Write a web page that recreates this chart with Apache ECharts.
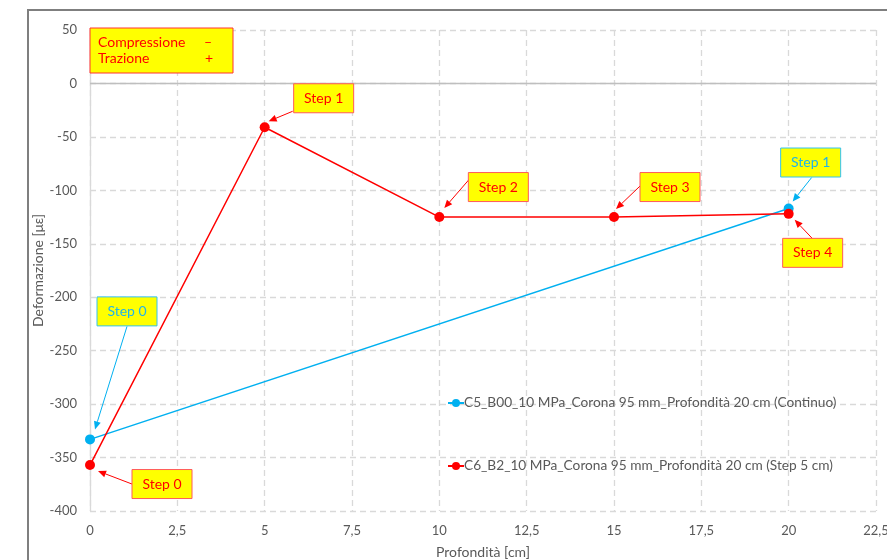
<!DOCTYPE html>
<html>
<head>
<meta charset="utf-8">
<script src="https://cdn.jsdelivr.net/npm/echarts@6/dist/echarts.min.js"></script>
<style>
  html, body { margin: 0; padding: 0; background: #ffffff; }
  #chart { width: 887px; height: 560px; }
</style>
</head>
<body>
<div id="chart"></div>
<script>
// Depth (cm) and measured strain (με) for the two cores
const depthContinuo = [0, 20];
const strainContinuo = [-333, -117];
const depthStep = [0, 5, 10, 15, 20];
const strainStep = [-357, -41, -125, -125, -122];

const nameContinuo = 'C5_B00_10 MPa_Corona 95 mm_Profondità 20 cm (Continuo)';
const nameStep = 'C6_B2_10 MPa_Corona 95 mm_Profondità 20 cm (Step 5 cm)';
const yTitle = 'Deformazione [με]';

// Step callouts: series, point index, text, box centre offset, arrow start offset, arrow tip offset (px)
const callouts = [
  { s: 0, i: 0, text: 'Step 0', box: [37, -128], from: [37, -113], to: [5, -10] },
  { s: 0, i: 1, text: 'Step 1', box: [22, -46], from: [23, -31], to: [4, -7] },
  { s: 1, i: 0, text: 'Step 0', box: [72, 19], from: [42, 19], to: [8, 6] },
  { s: 1, i: 1, text: 'Step 1', box: [59, -29], from: [28, -16], to: [4, -6] },
  { s: 1, i: 2, text: 'Step 2', box: [59, -30], from: [31, -39], to: [5, -9] },
  { s: 1, i: 3, text: 'Step 3', box: [56, -30], from: [26, -31], to: [2, -8] },
  { s: 1, i: 4, text: 'Step 4', box: [24, 39], from: [24, 25], to: [6, 6] }
];

const BLUE = '#00b0f0';
const RED = '#ff0000';
const GRID_GRAY = '#d9d9d9';
const TEXT_GRAY = '#595959';
const FONT = 'Lato, "Open Sans", sans-serif';

const chart = echarts.init(document.getElementById('chart'));

const option = {
  animation: false,
  textStyle: { fontFamily: FONT },
  grid: { left: 90, right: 11, top: 30, bottom: 49, containLabel: false, outerBoundsMode: 'none' },
  legend: {
    orient: 'vertical',
    left: 442,
    top: 391,
    itemGap: 49,
    itemWidth: 16,
    itemHeight: 10,
    textStyle: { color: TEXT_GRAY, fontSize: 13.7, fontFamily: FONT, padding: [0, 0, 0, -5] },
    data: [nameContinuo, nameStep]
  },
  xAxis: {
    type: 'value',
    min: 0,
    max: 22.5,
    interval: 2.5,
    name: 'Profondità [cm]',
    nameLocation: 'middle',
    nameGap: 34,
    nameTextStyle: { color: TEXT_GRAY, fontSize: 14, fontFamily: FONT },
    axisLine: { show: false },
    axisTick: { show: false },
    axisLabel: {
      color: TEXT_GRAY, fontSize: 13, margin: 13, fontFamily: FONT,
      formatter: v => String(v).replace('.', ',')
    },
    splitLine: { show: true, lineStyle: { color: GRID_GRAY, type: [6, 4], width: 1.3 } }
  },
  yAxis: {
    type: 'value',
    min: -400,
    max: 50,
    interval: 50,
    axisLine: { show: true, onZero: false, lineStyle: { color: GRID_GRAY, width: 1.3 } },
    axisTick: { show: false },
    axisLabel: { color: TEXT_GRAY, fontSize: 13, margin: 13, fontFamily: FONT },
    splitLine: { show: true, lineStyle: { color: GRID_GRAY, type: [6, 4], width: 1.3 } }
  },
  series: [
    {
      name: nameContinuo,
      type: 'line',
      data: depthContinuo.map((d, k) => [d, strainContinuo[k]]),
      symbol: 'circle',
      symbolSize: 10,
      lineStyle: { color: BLUE, width: 1.5 },
      itemStyle: { color: BLUE },
      z: 3
    },
    {
      name: nameStep,
      type: 'line',
      data: depthStep.map((d, k) => [d, strainStep[k]]),
      symbol: 'circle',
      symbolSize: 10,
      lineStyle: { color: RED, width: 1.5 },
      itemStyle: { color: RED },
      z: 4,
      markLine: {
        silent: true,
        symbol: 'none',
        label: { show: false },
        lineStyle: { color: '#bfbfbf', type: 'solid', width: 1.3 },
        data: [{ yAxis: 0 }]
      }
    }
  ]
};

chart.setOption(option);

const graphics = [];

// Outer chart frame
graphics.push({
  type: 'rect',
  shape: { x: 28, y: 10, width: 880, height: 580 },
  style: { fill: null, stroke: '#7f7f7f', lineWidth: 2 },
  silent: true,
  z: 0
});

// Vertical axis title, centred on the plot height
const plotTopPx = chart.convertToPixel({ yAxisIndex: 0 }, 50);
const plotBottomPx = chart.convertToPixel({ yAxisIndex: 0 }, -400);
graphics.push({
  type: 'text',
  x: 38, y: (plotTopPx + plotBottomPx) / 2,
  rotation: Math.PI / 2,
  style: { text: yTitle, fill: TEXT_GRAY, font: '14px ' + FONT, align: 'center', verticalAlign: 'middle' },
  z: 5
});

// Sign convention note
graphics.push({
  type: 'rect',
  shape: { x: 90, y: 28, width: 143, height: 45 },
  style: { fill: '#ffff00', stroke: '#ff3333', lineWidth: 1 },
  z: 10
});
[
  { t: 'Compressione', x: 98, y: 35 },
  { t: 'Trazione', x: 98, y: 51 },
  { t: '–', x: 204, y: 35 },
  { t: '+', x: 205, y: 51 }
].forEach(n => {
  graphics.push({
    type: 'text',
    x: n.x, y: n.y,
    style: { text: n.t, fill: RED, font: '14px ' + FONT },
    z: 11
  });
});

const seriesData = [
  depthContinuo.map((d, k) => [d, strainContinuo[k]]),
  depthStep.map((d, k) => [d, strainStep[k]])
];

// Callout boxes and arrows placed around each data point
callouts.forEach(c => {
  const p = chart.convertToPixel({ seriesIndex: c.s }, seriesData[c.s][c.i]);
  const isBlue = c.s === 0;
  const stroke = isBlue ? '#33c3f0' : '#ff5a5a';
  const txt = isBlue ? '#20b4ea' : RED;
  const arrowCol = isBlue ? BLUE : RED;
  const bw = 60, bh = 29;
  const cx = p[0] + c.box[0], cy = p[1] + c.box[1];
  graphics.push({
    type: 'rect',
    shape: { x: cx - bw / 2, y: cy - bh / 2, width: bw, height: bh },
    style: { fill: '#ffff00', stroke: stroke, lineWidth: 1 },
    z: 10
  });
  graphics.push({
    type: 'text',
    x: cx, y: cy,
    style: { text: c.text, fill: txt, font: '14px ' + FONT, align: 'center', verticalAlign: 'middle' },
    z: 11
  });
  const x1 = p[0] + c.from[0], y1 = p[1] + c.from[1];
  const x2 = p[0] + c.to[0], y2 = p[1] + c.to[1];
  const ang = Math.atan2(y2 - y1, x2 - x1);
  const hl = 8, hw = 3.5;
  const bx = x2 - hl * Math.cos(ang), by = y2 - hl * Math.sin(ang);
  graphics.push({
    type: 'line',
    shape: { x1: x1, y1: y1, x2: bx, y2: by },
    style: { stroke: arrowCol, lineWidth: 1 },
    z: 9
  });
  graphics.push({
    type: 'polygon',
    shape: {
      points: [
        [x2, y2],
        [bx + hw * Math.sin(ang), by - hw * Math.cos(ang)],
        [bx - hw * Math.sin(ang), by + hw * Math.cos(ang)]
      ]
    },
    style: { fill: arrowCol },
    z: 9
  });
});

chart.setOption({ graphic: graphics });
</script>
</body>
</html>
